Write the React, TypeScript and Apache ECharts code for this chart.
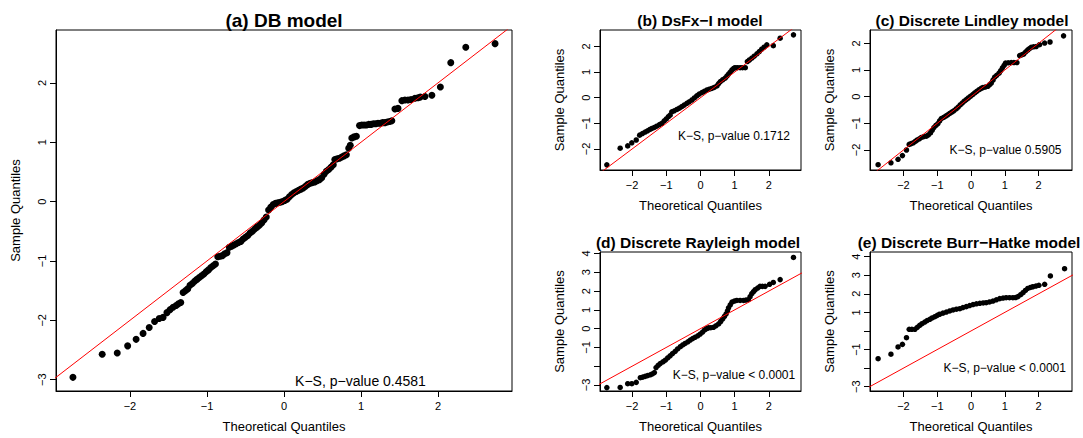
import React, { useEffect, useRef } from "react";
import * as echarts from "echarts";

const FONT = "'Liberation Sans', Arial, Helvetica, sans-serif";

// Panel titles and K-S annotations
const titles = [
  "(a) DB model",
  "(b) DsFx\u2212I model",
  "(c) Discrete Lindley model",
  "(d) Discrete Rayleigh model",
  "(e) Discrete Burr\u2212Hatke model",
];
const ksTexts = [
  "K\u2212S, p\u2212value 0.4581",
  "K\u2212S, p\u2212value 0.1712",
  "K\u2212S, p\u2212value 0.5905",
  "K\u2212S, p\u2212value < 0.0001",
  "K\u2212S, p\u2212value < 0.0001",
];

// Tick values
const xTicks = [-2, -1, 0, 1, 2];
const yTicksA = [-3, -2, -1, 0, 1, 2];
const yTicksB = [-2, -1, 0, 1, 2];
const yTicksC = [-2, -1, 0, 1, 2];
const yTicksD = [-3, -2, -1, 0, 1, 2, 3, 4];
const yLabelsD = [-3, -1, 0, 1, 2, 3, 4];
const yTicksE = [-3, -2, -1, 0, 1, 2, 3, 4];
const yLabelsE = [-3, -1, 1, 2, 3, 4];

// Reference line y = x
const refLine = [[-6, -6], [6, 6]];

// [theoretical quantile, sample quantile]
const qqA = [
  [-2.74,-2.96],[-2.36,-2.57],[-2.165,-2.55],[-2.03,-2.43],[-1.92,-2.32],[-1.83,-2.22],[-1.75,-2.12],[-1.68,-2.02],[-1.62,-1.97],[-1.57,-1.95],
  [-1.52,-1.87],[-1.48,-1.82],[-1.44,-1.78],[-1.40,-1.75],[-1.37,-1.72],[-1.34,-1.70],[-1.31,-1.53],[-1.28,-1.50],[-1.25,-1.47],[-1.22,-1.41],
  [-1.19,-1.38],[-1.16,-1.34],[-1.13,-1.31],[-1.10,-1.28],[-1.07,-1.25],[-1.04,-1.22],[-1.01,-1.18],[-0.98,-1.15],[-0.95,-1.11],[-0.92,-1.08],
  [-0.89,-1.05],[-0.86,-0.93],[-0.83,-0.92],[-0.80,-0.91],[-0.77,-0.88],[-0.74,-0.86],[-0.71,-0.77],[-0.68,-0.75],[-0.65,-0.73],[-0.62,-0.71],
  [-0.59,-0.69],[-0.56,-0.67],[-0.53,-0.63],[-0.50,-0.60],[-0.47,-0.57],[-0.44,-0.53],[-0.41,-0.50],[-0.38,-0.46],[-0.35,-0.43],[-0.32,-0.40],
  [-0.29,-0.36],[-0.26,-0.31],[-0.23,-0.26],[-0.20,-0.14],[-0.17,-0.09],[-0.14,-0.05],[-0.11,-0.03],[-0.08,-0.02],[-0.05,-0.01],[-0.02,0.00],
  [0.01,0.02],[0.04,0.04],[0.07,0.08],[0.10,0.12],[0.13,0.15],[0.16,0.17],[0.19,0.19],[0.22,0.21],[0.25,0.23],[0.28,0.26],
  [0.31,0.29],[0.34,0.31],[0.37,0.32],[0.40,0.33],[0.43,0.35],[0.46,0.37],[0.49,0.40],[0.52,0.46],[0.55,0.51],[0.58,0.54],
  [0.61,0.58],[0.64,0.62],[0.66,0.71],[0.69,0.72],[0.72,0.73],[0.75,0.75],[0.78,0.77],[0.81,0.79],[0.84,0.90],[0.86,0.95],
  [0.88,1.07],[0.91,1.09],[0.94,1.10],[0.98,1.28],[1.01,1.29],[1.04,1.29],[1.07,1.29],[1.10,1.30],[1.13,1.30],[1.16,1.31],
  [1.19,1.31],[1.22,1.32],[1.25,1.32],[1.28,1.33],[1.31,1.33],[1.34,1.34],[1.37,1.35],[1.40,1.36],[1.44,1.56],[1.48,1.57],
  [1.53,1.70],[1.57,1.71],[1.61,1.71],[1.65,1.72],[1.70,1.74],[1.74,1.75],[1.77,1.76],[1.83,1.77],[1.92,1.79],[2.03,1.93],
  [2.165,2.34],[2.36,2.60],[2.74,2.66],
];
const qqB = [
  [-2.74,-2.62],[-2.35,-1.97],[-2.13,-1.88],[-2.01,-1.76],[-1.88,-1.65],[-1.78,-1.46],[-1.70,-1.40],[-1.62,-1.34],[-1.55,-1.29],[-1.48,-1.24],
  [-1.42,-1.20],[-1.35,-1.16],[-1.28,-1.11],[-1.20,-1.05],[-1.13,-1.00],[-1.06,-0.90],[-1.00,-0.83],[-0.94,-0.74],[-0.89,-0.68],[-0.84,-0.55],
  [-0.77,-0.51],[-0.69,-0.46],[-0.62,-0.41],[-0.55,-0.35],[-0.48,-0.29],[-0.40,-0.22],[-0.33,-0.16],[-0.25,-0.09],[-0.18,-0.01],[-0.11,0.07],
  [-0.04,0.14],[0.04,0.20],[0.11,0.25],[0.19,0.30],[0.26,0.33],[0.33,0.36],[0.40,0.40],[0.48,0.46],[0.53,0.55],[0.58,0.63],
  [0.65,0.70],[0.72,0.76],[0.77,0.84],[0.82,0.92],[0.87,1.00],[0.92,1.08],[0.97,1.14],[1.01,1.17],[1.08,1.17],[1.16,1.17],
  [1.23,1.17],[1.31,1.17],[1.37,1.41],[1.43,1.47],[1.50,1.54],[1.57,1.62],[1.65,1.71],[1.72,1.80],[1.79,1.89],[1.86,1.97],
  [1.94,2.06],[2.13,2.03],[2.33,2.32],[2.72,2.45],
];
const qqC = [
  [-2.75,-2.55],[-2.37,-2.48],[-2.16,-2.35],[-2.03,-2.21],[-1.91,-2.00],[-1.83,-1.79],[-1.77,-1.76],[-1.71,-1.73],[-1.65,-1.68],[-1.60,-1.63],
  [-1.53,-1.58],[-1.47,-1.53],[-1.40,-1.50],[-1.32,-1.48],[-1.26,-1.43],[-1.20,-1.36],[-1.15,-1.26],[-1.10,-1.16],[-1.04,-1.08],[-0.98,-1.01],
  [-0.93,-0.91],[-0.88,-0.82],[-0.81,-0.78],[-0.75,-0.73],[-0.69,-0.68],[-0.63,-0.63],[-0.57,-0.58],[-0.51,-0.53],[-0.44,-0.46],[-0.38,-0.39],
  [-0.32,-0.31],[-0.26,-0.24],[-0.20,-0.17],[-0.14,-0.11],[-0.08,-0.05],[-0.02,0.01],[0.05,0.08],[0.11,0.14],[0.17,0.20],[0.24,0.26],
  [0.30,0.31],[0.35,0.34],[0.42,0.36],[0.50,0.39],[0.55,0.45],[0.60,0.51],[0.65,0.62],[0.70,0.73],[0.76,0.80],[0.83,0.88],
  [0.88,0.98],[0.93,1.08],[0.98,1.17],[1.02,1.26],[1.10,1.27],[1.19,1.28],[1.27,1.28],[1.36,1.28],[1.44,1.54],[1.50,1.57],
  [1.56,1.60],[1.62,1.68],[1.68,1.75],[1.73,1.80],[1.78,1.85],[1.85,1.87],[1.93,1.88],[2.03,1.95],[2.18,2.01],[2.34,2.05],
  [2.74,2.28],
];
const qqD = [
  [-2.74,-3.14],[-2.35,-3.13],[-2.13,-2.93],[-2.01,-2.93],[-1.88,-2.86],[-1.76,-2.61],[-1.69,-2.58],[-1.62,-2.54],[-1.55,-2.50],[-1.47,-2.46],
  [-1.41,-2.41],[-1.35,-2.34],[-1.30,-2.07],[-1.24,-1.96],[-1.18,-1.86],[-1.10,-1.77],[-1.03,-1.68],[-0.96,-1.56],[-0.89,-1.45],[-0.82,-1.33],
  [-0.74,-1.21],[-0.67,-1.08],[-0.59,-0.96],[-0.52,-0.87],[-0.45,-0.79],[-0.37,-0.70],[-0.30,-0.61],[-0.23,-0.53],[-0.16,-0.46],[-0.08,-0.38],
  [-0.01,-0.29],[0.06,-0.18],[0.12,-0.07],[0.18,0.00],[0.23,0.04],[0.30,0.05],[0.38,0.07],[0.45,0.15],[0.53,0.25],[0.59,0.38],
  [0.65,0.52],[0.70,0.65],[0.75,0.79],[0.79,0.95],[0.82,1.11],[0.87,1.26],[0.92,1.41],[0.99,1.47],[1.06,1.50],[1.16,1.50],
  [1.26,1.50],[1.33,1.52],[1.40,1.54],[1.45,1.70],[1.50,1.86],[1.55,1.97],[1.60,2.07],[1.67,2.16],[1.74,2.25],[1.81,2.25],
  [1.89,2.25],[2.02,2.36],[2.13,2.46],[2.33,2.61],[2.72,3.79],
];
const qqE = [
  [-2.75,-1.49],[-2.37,-1.25],[-2.16,-0.86],[-2.03,-0.72],[-1.91,-0.36],[-1.83,0.09],[-1.75,0.09],[-1.66,0.09],[-1.59,0.20],[-1.52,0.30],
  [-1.45,0.39],[-1.37,0.48],[-1.30,0.56],[-1.22,0.63],[-1.15,0.70],[-1.07,0.77],[-1.00,0.84],[-0.93,0.90],[-0.83,0.96],[-0.73,1.02],
  [-0.63,1.08],[-0.53,1.13],[-0.43,1.17],[-0.33,1.20],[-0.24,1.26],[-0.14,1.31],[-0.04,1.37],[0.06,1.42],[0.16,1.46],[0.26,1.49],
  [0.36,1.51],[0.45,1.52],[0.55,1.56],[0.65,1.61],[0.75,1.68],[0.85,1.74],[0.95,1.77],[1.04,1.79],[1.14,1.79],[1.24,1.79],
  [1.32,1.80],[1.39,1.85],[1.47,1.95],[1.54,2.06],[1.61,2.18],[1.68,2.29],[1.76,2.34],[1.83,2.38],[1.92,2.42],[2.01,2.46],
  [2.18,2.51],[2.35,2.96],[2.77,3.35],
];

const fmt = (v: number) => {
  const r = Math.round(v);
  return r < 0 ? "\u2212" + Math.abs(r) : String(r);
};

type Panel = {
  grid: { left: number; top: number; width: number; height: number };
  xr: [number, number];
  yr: [number, number];
  yTicks: number[];
  yLabels: number[];
  data: number[][];
  sym: number;
  titleFont: number;
  title: [number, number];
  ksFont: number;
  ks: [number, number];
};

const panels: Panel[] = [
  { grid: { left: 56, top: 30, width: 456, height: 362 }, xr: [-2.96, 2.96], yr: [-3.19, 2.89], yTicks: yTicksA, yLabels: yTicksA, data: qqA, sym: 7, titleFont: 19, title: [284, 20], ksFont: 14, ks: [360.5, 381] },
  { grid: { left: 600, top: 30, width: 201, height: 140 }, xr: [-2.94, 2.94], yr: [-2.82, 2.64], yTicks: yTicksB, yLabels: yTicksB, data: qqB, sym: 5.5, titleFont: 15.5, title: [700, 20], ksFont: 12, ks: [734, 136] },
  { grid: { left: 870, top: 30, width: 202, height: 140 }, xr: [-2.99, 2.99], yr: [-2.75, 2.5], yTicks: yTicksC, yLabels: yTicksC, data: qqC, sym: 5.5, titleFont: 15.5, title: [972, 20], ksFont: 12, ks: [1005.5, 150] },
  { grid: { left: 600, top: 252, width: 201, height: 139 }, xr: [-2.94, 2.94], yr: [-3.32, 4.08], yTicks: yTicksD, yLabels: yLabelsD, data: qqD, sym: 5.5, titleFont: 15.5, title: [698, 242], ksFont: 12, ks: [734, 374.5] },
  { grid: { left: 870, top: 252, width: 202, height: 139 }, xr: [-2.99, 2.99], yr: [-3.23, 4.25], yTicks: yTicksE, yLabels: yLabelsE, data: qqE, sym: 5.5, titleFont: 15.5, title: [969, 242], ksFont: 12, ks: [1004.7, 368] },
];

export default function App() {
  const ref = useRef<HTMLDivElement>(null);
  useEffect(() => {
    if (!ref.current) return;
    const chart = echarts.init(ref.current, undefined, { renderer: "svg" });
    const grids = panels.map((p) => ({
      ...p.grid,
      show: true,
      borderColor: "#000",
      borderWidth: 1,
      backgroundColor: "transparent",
      containLabel: false,
    }));
    const xAxes = panels.map((p, i) => ({
      type: "value",
      gridIndex: i,
      position: "bottom",
      min: p.xr[0],
      max: p.xr[1],
      name: "Theoretical Quantiles",
      nameLocation: "middle",
      nameGap: 29,
      nameTextStyle: { fontSize: 13, color: "#000", fontFamily: FONT },
      axisLine: { show: true, onZero: false, lineStyle: { color: "#000", width: 1 } },
      axisTick: { show: true, length: 6, lineStyle: { color: "#000" }, customValues: xTicks },
      axisLabel: { show: true, customValues: xTicks, formatter: fmt, fontSize: 11, color: "#000", margin: 9, fontFamily: FONT },
      splitLine: { show: false },
    }));
    const yAxes = panels.map((p, i) => ({
      type: "value",
      gridIndex: i,
      position: "left",
      min: p.yr[0],
      max: p.yr[1],
      name: "Sample Quantiles",
      nameLocation: "middle",
      nameGap: 34,
      nameRotate: 90,
      nameTextStyle: { fontSize: 13, color: "#000", fontFamily: FONT },
      axisLine: { show: true, onZero: false, lineStyle: { color: "#000", width: 1 } },
      axisTick: { show: true, length: 6, lineStyle: { color: "#000" }, customValues: p.yTicks },
      axisLabel: { show: true, rotate: 90, customValues: p.yLabels, formatter: fmt, fontSize: 11, color: "#000", margin: 9, fontFamily: FONT },
      splitLine: { show: false },
    }));
    const series: any[] = [];
    panels.forEach((p, i) => {
      series.push({
        type: "scatter",
        xAxisIndex: i,
        yAxisIndex: i,
        data: p.data,
        symbol: "circle",
        symbolSize: p.sym,
        itemStyle: { color: "#000", opacity: 1 },
        silent: true,
      });
      series.push({
        type: "line",
        xAxisIndex: i,
        yAxisIndex: i,
        data: refLine,
        showSymbol: false,
        symbol: "none",
        clip: true,
        lineStyle: { color: "#ff0000", width: 1 },
        silent: true,
      });
    });
    const graphics: any[] = [];
    panels.forEach((p, i) => {
      graphics.push({
        type: "text",
        silent: true,
        style: {
          text: titles[i],
          x: p.title[0],
          y: p.title[1],
          textAlign: "center",
          textVerticalAlign: "middle",
          font: `bold ${p.titleFont}px ${FONT}`,
          fill: "#000",
        },
      });
      graphics.push({
        type: "text",
        silent: true,
        style: {
          text: ksTexts[i],
          x: p.ks[0],
          y: p.ks[1],
          textAlign: "center",
          textVerticalAlign: "middle",
          font: `${p.ksFont}px ${FONT}`,
          fill: "#000",
        },
      });
    });
    chart.setOption({
      animation: false,
      backgroundColor: "#fff",
      grid: grids,
      xAxis: xAxes,
      yAxis: yAxes,
      series,
      graphic: graphics,
    });
    return () => chart.dispose();
  }, []);
  return (
    <div
      ref={ref}
      style={{ position: "absolute", left: 0, top: 0, width: 1083, height: 438, background: "#fff" }}
    />
  );
}
